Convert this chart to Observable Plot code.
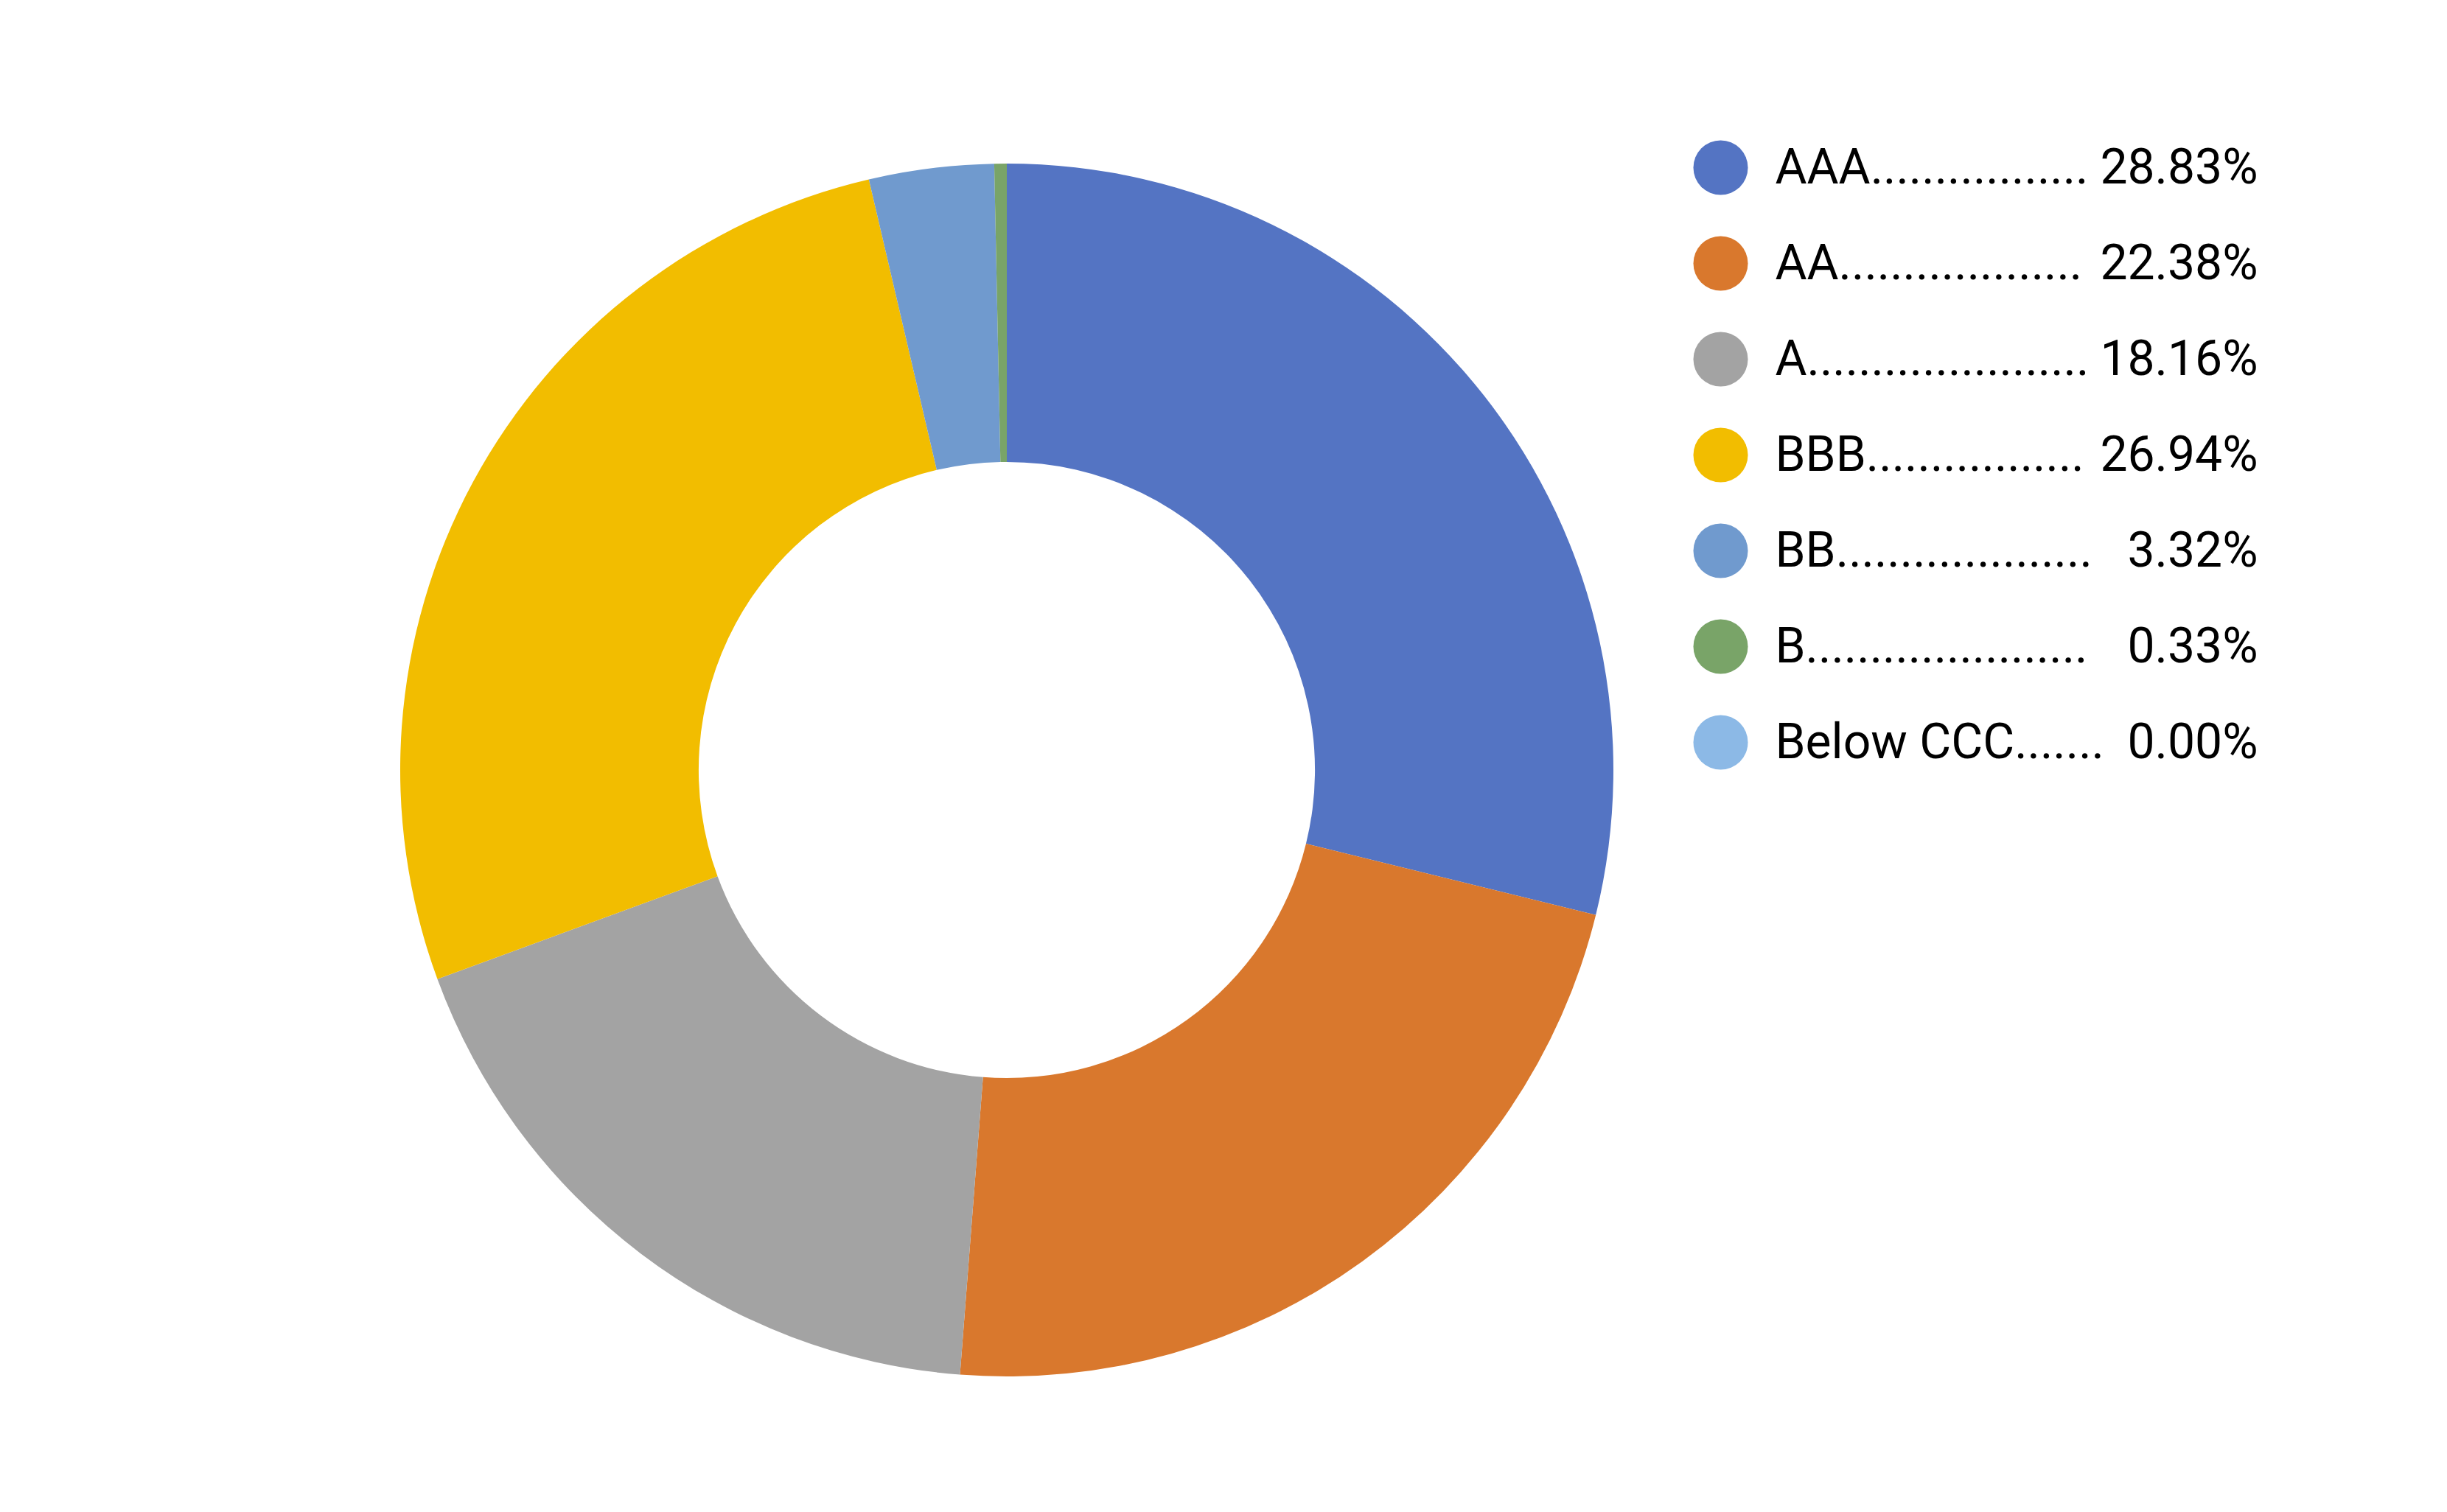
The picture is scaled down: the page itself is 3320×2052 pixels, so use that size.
<!DOCTYPE html>
<html>
<head>
<meta charset="utf-8">
<script src="https://cdn.jsdelivr.net/npm/d3@7"></script>
<script src="https://cdn.jsdelivr.net/npm/@observablehq/plot@0.6"></script>
<style>
  html, body { margin: 0; padding: 0; background: #ffffff; }
  #wrap { position: relative; width: 3320px; height: 2052px; overflow: hidden; }
  #donut { position: absolute; left: 0; top: 0; }
  #legend { position: absolute; left: 2290px; top: 0; }
</style>
</head>
<body>
<div id="wrap"><div id="donut"></div><div id="legend"></div></div>
<script>
// ---- data ----
const categories = ["AAA", "AA", "A", "BBB", "BB", "B", "Below CCC"];
const shares = [28.83, 22.38, 18.16, 26.94, 3.32, 0.33, 0.00];
const shareLabels = ["28.83%", "22.38%", "18.16%", "26.94%", "3.32%", "0.33%", "0.00%"];
const leaderDotCounts = [17, 19, 22, 17, 20, 22, 7];
const colors = ["#5474c3", "#d9782d", "#a3a3a3", "#f2bd00", "#709ace", "#79a468", "#8cb9e6"];

// ---- layout ----
const W = 3320, H = 2052;
const cx = 1366, cy = 1045, R = 823, innerRatio = 0.508;

const rows = categories.map((c, i) => ({
  cat: c,
  value: shares[i],
  label: c + ".".repeat(leaderDotCounts[i]),
  pct: shareLabels[i]
}));

const pie = d3.pie().sort(null).value(d => d.value).startAngle(0).endAngle(2 * Math.PI);
const arcsData = pie(rows);

function donutMark(index, scales, values, dimensions) {
  const x = scales.x, y = scales.y, color = scales.color;
  const x0 = x(0), y0 = y(0);
  const r = Math.abs(x(1) - x0);
  const arc = d3.arc().innerRadius(r * innerRatio).outerRadius(r);
  const g = d3.create("svg:g").attr("transform", `translate(${x0},${y0})`);
  g.selectAll("path").data(arcsData).join("path")
    .attr("d", arc)
    .attr("fill", d => color ? color(d.data.cat) : colors[categories.indexOf(d.data.cat)]);
  return g.node();
}

const donut = Plot.plot({
  width: W,
  height: H,
  margin: 0,
  x: { domain: [-cx / R, (W - cx) / R], axis: null },
  y: { domain: [-(H - cy) / R, cy / R], axis: null },
  color: { domain: categories, range: colors },
  marks: [
    Plot.dot(rows, { x: () => 0, y: () => 0, fill: "cat", r: 0 }),
    donutMark
  ]
});
document.getElementById("donut").appendChild(donut);

// ---- legend ----
const legendW = 773;
const legend = Plot.plot({
  width: legendW,
  height: H,
  margin: 0,
  x: { axis: null },
  y: { type: "point", domain: categories, range: [226, 1007], padding: 0, axis: null },
  color: { domain: categories, range: colors },
  style: { fontFamily: "Roboto, 'Open Sans', sans-serif" },
  marks: [
    Plot.dot(rows, { y: "cat", fill: "cat", r: 37, frameAnchor: "left", dx: 44 }),
    Plot.text(rows, { y: "cat", text: "label", frameAnchor: "left", dx: 118, textAnchor: "start", fontSize: 66, fill: "#000" }),
    Plot.text(rows, { y: "cat", text: "pct", frameAnchor: "right", textAnchor: "end", fontSize: 66, fill: "#000" })
  ]
});
document.getElementById("legend").appendChild(legend);
</script>
</body>
</html>
